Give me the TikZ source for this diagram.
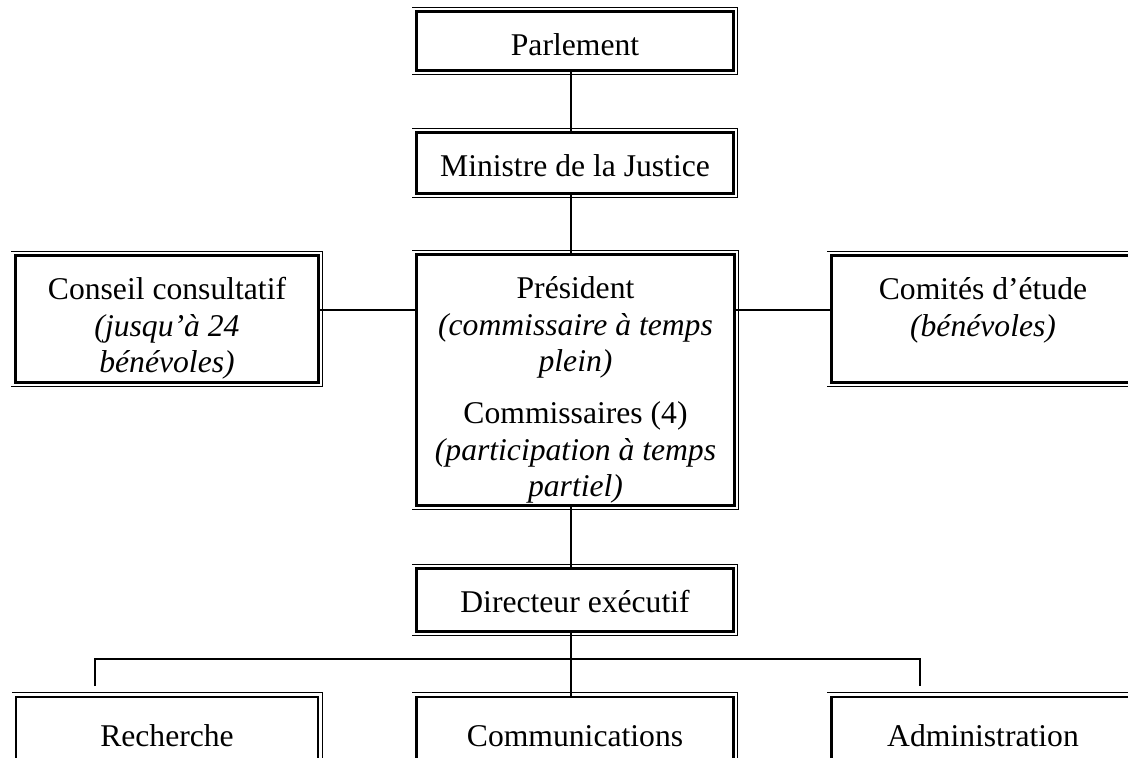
\documentclass[tikz,border=0pt]{standalone}
\usepackage{fontspec}
\setmainfont{Liberation Serif}
\usepackage{tikz}
\tikzset{box/.style={rectangle, draw, line width=1.6pt, inner sep=0pt, font=\fontsize{22.5}{26}\selectfont},
  link/.style={line width=1pt}}
% text sits at the top of each box
\newcommand{\boxtext}[4][1.1cm]{\parbox[c][#2][t]{#3}{\centering\rule{0pt}{#1}#4}}

\begin{document}
\begin{tikzpicture}[x=0.025cm, y=-0.025cm]
\useasboundingbox (0,0) rectangle (1128,757);
\clip (0,0) rectangle (1128,757);
\coordinate (spine) at (571,0);
\coordinate (arm) at (0,310);
\coordinate (busL) at (95,659);
\coordinate (busR) at (920,659);

\path (575,41) node(parl) [box] {\boxtext{1.475cm}{7.925cm}{Parlement}}
(575,163) node(min) [box] {\boxtext{1.525cm}{7.925cm}{Ministre de la Justice}}
(575.5,380) node(pres) [box] {\boxtext{6.275cm}{7.95cm}{Président\\ \textit{(commissaire à temps}\\ \textit{plein)}\\[11pt] Commissaires (4)\\ \textit{(participation à temps}\\ \textit{partiel)}}}
(167,319) node(cons) [box] {\boxtext{3.175cm}{7.575cm}{Conseil consultatif\\ \textit{(jusqu’à 24}\\ \textit{bénévoles)}}}
(983,319) node(com) [box] {\boxtext{3.175cm}{7.575cm}{Comités d’étude\\ \textit{(bénévoles)}}}
(575,600) node(dir) [box] {\boxtext{1.575cm}{7.925cm}{Directeur exécutif}}
(167,742) node(rech) [box] {\boxtext[1.225cm]{2.25cm}{7.55cm}{Recherche}}
(575,742) node(comm) [box] {\boxtext[1.225cm]{2.25cm}{7.925cm}{Communications}}
(983,742) node(adm) [box] {\boxtext[1.225cm]{2.25cm}{7.575cm}{Administration}};

% thin outer line of the double borders (top, right, bottom)
\foreach \n in {parl,min,pres,cons,com,dir,rech,comm,adm}
  \draw[line width=0.7pt] ([shift={(-3,-3)}]\n.north west) -| ([shift={(3,3)}]\n.south east) -- ([shift={(-3,3)}]\n.south west);

\draw[link] (parl.south -| spine) -- (min.north -| spine);
\draw[link] (min.south -| spine) -- (pres.north -| spine);
\draw[link] (cons.east |- arm) -- (pres.west |- arm);
\draw[link] (pres.east |- arm) -- (com.west |- arm);
\draw[link] (pres.south -| spine) -- (dir.north -| spine);
\draw[link] (dir.south -| spine) -- (comm.north -| spine);
\draw[link, shorten <=7pt, shorten >=7pt] (rech.north -| busL) |- (busR) -- (adm.north -| busR);
\end{tikzpicture}
\end{document}
